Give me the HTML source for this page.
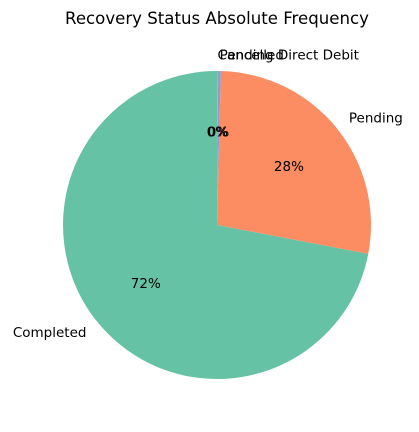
<!DOCTYPE html>
<html><head><meta charset="utf-8"><style>
html,body{margin:0;padding:0;background:#fff;}
svg text{font-family:"DejaVu Sans","Liberation Sans",sans-serif;fill:#000;}
</style></head><body>
<svg id="chart" width="419" height="427" viewBox="0 0 419 427">
<text x="217" y="24" font-size="16.6" text-anchor="middle">Recovery Status Absolute Frequency</text>
<g id="slices"></g><g id="labels"></g>
</svg>
<script>
const categories = ["Completed","Pending","Pending Direct Debit","Cancelled"];
const values = [720, 276, 3, 1];
const colors = ["#66c2a5","#fc8d62","#8da0cb","#e78ac3"];
const cx=217, cy=225, r=154;
const svg=document.getElementById('chart');
const gs=document.getElementById('slices'), gl=document.getElementById('labels');
const NS="http://www.w3.org/2000/svg";
const total=values.reduce((a,b)=>a+b,0);
let a0=90;
function pt(deg,rad){const t=deg*Math.PI/180;return [cx+rad*Math.cos(t), cy-rad*Math.sin(t)];}
values.forEach((v,i)=>{
  const sweep=v/total*360, a1=a0+sweep;
  const p0=pt(a0,r), p1=pt(a1,r);
  const path=document.createElementNS(NS,'path');
  path.setAttribute('d',`M${cx},${cy} L${p0[0]},${p0[1]} A${r},${r} 0 ${sweep>180?1:0} 0 ${p1[0]},${p1[1]} Z`);
  path.setAttribute('fill',colors[i]);
  
  
  gs.appendChild(path);
  const mid=(a0+a1)/2;
  const lp=pt(mid,r*1.1);
  const t=document.createElementNS(NS,'text');
  t.setAttribute('x',lp[0]);t.setAttribute('y',lp[1]+4);t.setAttribute('font-size','13.5');
  t.setAttribute('text-anchor',Math.cos(mid*Math.PI/180)>=0?'start':'end');
  t.textContent=categories[i];
  
  
  gl.appendChild(t);
  const pp=pt(mid,r*0.6);
  const pc=document.createElementNS(NS,'text');
  pc.setAttribute('x',pp[0]);pc.setAttribute('y',pp[1]+4);pc.setAttribute('font-size','13.5');
  pc.setAttribute('text-anchor','middle');
  pc.textContent=Math.round(v/total*100)+'%';
  
  
  gl.appendChild(pc);
  a0=a1;
});
</script>
</body></html>
